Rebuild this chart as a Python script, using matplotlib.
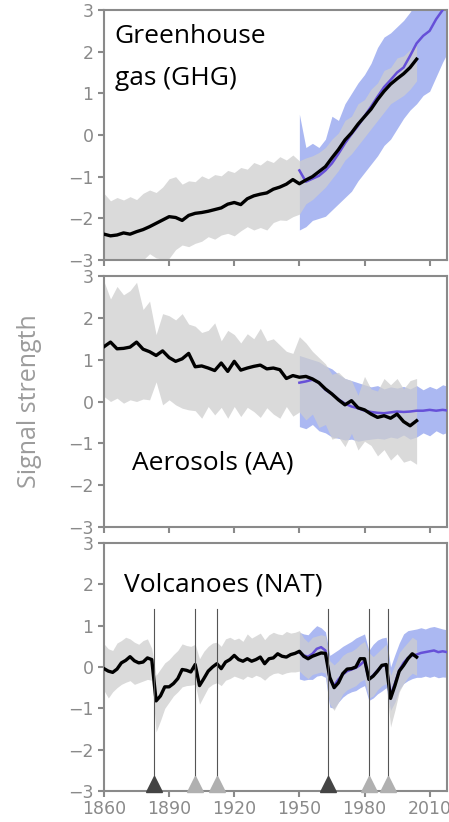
import matplotlib
matplotlib.use('Agg')
import matplotlib.pyplot as plt
import numpy as np

# colores
GRIS_BANDA = '#cecece'
AZUL_BANDA = '#abb8f2'
MORADO = '#6650d8'
GRIS_EJE = '#8a8a8a'

# ---------------- datos ----------------
# observaciones (negro + banda gris), modelo (morado + banda azul)
anios_obs = np.arange(1860, 2006, 3)
anios_mod = np.arange(1950, 2020, 3)

ghg_obs = [-2.38, -2.42, -2.40, -2.35, -2.38, -2.32, -2.27, -2.20, -2.12, -2.04,
           -1.96, -1.98, -2.05, -1.93, -1.88, -1.86, -1.83, -1.79, -1.75, -1.66,
           -1.62, -1.67, -1.53, -1.46, -1.42, -1.39, -1.30, -1.25, -1.18, -1.07,
           -1.17, -1.08, -1.00, -0.88, -0.76, -0.55, -0.35, -0.12, 0.05, 0.26,
           0.44, 0.62, 0.85, 1.05, 1.22, 1.35, 1.47, 1.62, 1.82]
ghg_obs_hi = [-1.40, -1.58, -1.50, -1.56, -1.48, -1.55, -1.40, -1.32, -1.38, -1.25,
              -1.05, -1.00, -1.18, -1.10, -1.12, -0.98, -1.05, -0.95, -0.98, -0.85,
              -0.90, -0.78, -0.82, -0.66, -0.72, -0.60, -0.66, -0.52, -0.60, -0.48,
              -0.62, -0.55, -0.50, -0.42, -0.30, -0.10, 0.05, 0.35, 0.45, 0.75,
              0.85, 1.10, 1.25, 1.55, 1.62, 1.85, 1.90, 2.05, 2.15]
ghg_obs_lo = [-3.30, -3.35, -3.20, -3.25, -3.10, -3.15, -3.00, -2.85, -2.95, -2.98,
              -2.96, -2.75, -2.64, -2.68, -2.60, -2.55, -2.44, -2.50, -2.40, -2.36,
              -2.42, -2.30, -2.20, -2.28, -2.22, -2.28, -2.10, -2.04, -2.05, -1.96,
              -1.90, -1.65, -1.55, -1.40, -1.25, -1.05, -0.85, -0.60, -0.45, -0.25,
              -0.05, 0.15, 0.35, 0.55, 0.75, 0.85, 0.95, 1.10, 1.30]
ghg_mod = [-0.85, -1.12, -1.05, -0.98, -0.85, -0.68, -0.45, -0.20, 0.02, 0.22,
           0.45, 0.68, 0.92, 1.15, 1.32, 1.50, 1.62, 1.90, 2.20, 2.38,
           2.50, 2.78, 3.00, 3.25]
ghg_mod_hi = [0.50, -0.30, -0.20, -0.30, -0.10, 0.45, 0.35, 0.75, 1.00, 1.25,
              1.45, 1.72, 2.10, 2.35, 2.45, 2.60, 2.75, 2.95, 3.20, 3.40,
              3.60, 3.80, 4.00, 4.20]
ghg_mod_lo = [-2.28, -2.20, -2.05, -2.00, -1.95, -1.80, -1.65, -1.50, -1.35, -1.10,
              -0.90, -0.70, -0.50, -0.25, -0.10, 0.15, 0.40, 0.60, 0.75, 0.95,
              1.05, 1.40, 1.75, 2.05]

aa_obs = [1.31, 1.42, 1.26, 1.27, 1.30, 1.42, 1.25, 1.19, 1.10, 1.21,
          1.05, 0.96, 1.02, 1.15, 0.83, 0.85, 0.80, 0.74, 0.92, 0.72,
          0.96, 0.75, 0.80, 0.84, 0.87, 0.78, 0.80, 0.76, 0.55, 0.62,
          0.58, 0.60, 0.54, 0.45, 0.30, 0.18, 0.04, -0.08, 0.02, -0.15,
          -0.20, -0.30, -0.38, -0.34, -0.40, -0.30, -0.48, -0.58, -0.46]
aa_obs_hi = [2.87, 2.45, 2.75, 2.55, 2.65, 2.85, 2.20, 2.40, 1.60, 2.10,
             2.05, 1.95, 2.10, 1.85, 1.80, 1.65, 1.70, 1.88, 1.45, 1.70,
             1.60, 1.40, 1.62, 1.50, 1.75, 1.45, 1.50, 1.35, 1.20, 1.15,
             1.55, 1.40, 1.20, 1.05, 0.90, 0.65, 0.70, 0.55, 0.50, 0.15,
             0.60, 0.30, 0.25, 0.55, 0.40, 0.55, 0.30, 0.50, 0.55]
aa_obs_lo = [0.12, 0.00, 0.08, -0.04, 0.04, 0.00, 0.06, 0.04, 0.47, -0.08,
             0.04, -0.08, -0.16, -0.20, -0.22, -0.40, -0.12, -0.32, -0.14, -0.40,
             -0.12, -0.36, -0.14, -0.24, -0.38, -0.15, -0.30, -0.40, -0.12, -0.35,
             -0.25, -0.44, -0.30, -0.62, -0.55, -0.90, -0.85, -1.08, -0.76, -1.16,
             -0.95, -1.05, -1.30, -1.15, -1.40, -1.25, -1.45, -1.40, -1.50]
aa_mod = [0.45, 0.48, 0.52, 0.45, 0.28, 0.18, 0.05, -0.05, -0.12, -0.16,
          -0.22, -0.25, -0.27, -0.28, -0.26, -0.24, -0.25, -0.24, -0.22, -0.22,
          -0.20, -0.22, -0.20, -0.22]
aa_mod_hi = [1.10, 1.05, 1.00, 0.95, 0.85, 0.78, 0.65, 0.55, 0.50, 0.45,
             0.40, 0.35, 0.38, 0.30, 0.35, 0.32, 0.36, 0.30, 0.38, 0.28,
             0.36, 0.30, 0.40, 0.35]
aa_mod_lo = [-0.60, -0.65, -0.55, -0.70, -0.75, -0.85, -0.88, -0.92, -0.90, -0.95,
             -0.92, -0.90, -0.88, -0.90, -0.85, -0.88, -0.80, -0.90, -0.85, -0.75,
             -0.82, -0.70, -0.78, -0.72]

# volcanes: rejilla de 2 años
anios_obs_nat = np.arange(1860, 2006, 2)
anios_mod_nat = np.arange(1950, 2020, 2)

nat_obs = [-0.04, -0.10, -0.13, -0.05, 0.10, 0.16, 0.25, 0.15, 0.10, 0.12,
           0.22, 0.18, -0.82, -0.70, -0.48, -0.48, -0.40, -0.28, -0.06, -0.08,
           -0.12, 0.06, -0.45, -0.28, -0.10, 0.00, 0.08, -0.04, 0.12, 0.18,
           0.28, 0.18, 0.14, 0.20, 0.14, 0.18, 0.24, 0.08, 0.20, 0.22,
           0.32, 0.26, 0.24, 0.30, 0.33, 0.38, 0.26, 0.20, 0.26, 0.30,
           0.34, 0.33, -0.25, -0.50, -0.38, -0.16, -0.05, -0.04, 0.00, 0.20,
           0.20, -0.30, -0.22, -0.10, 0.04, 0.06, -0.76, -0.45, -0.10, 0.04,
           0.20, 0.32, 0.24]
nat_obs_hi = [0.56, 0.44, 0.40, 0.58, 0.64, 0.72, 0.68, 0.60, 0.55, 0.64,
              0.68, 0.45, -0.20, -0.05, 0.10, 0.18, 0.30, 0.40, 0.56, 0.52,
              0.50, 0.55, 0.20, 0.38, 0.50, 0.58, 0.60, 0.50, 0.68, 0.72,
              0.66, 0.70, 0.62, 0.80, 0.70, 0.76, 0.82, 0.66, 0.78, 0.84,
              0.80, 0.78, 0.86, 0.82, 0.84, 0.88, 0.70, 0.60, 0.72, 0.75,
              0.78, 0.75, 0.15, 0.05, 0.15, 0.28, 0.35, 0.38, 0.45, 0.55,
              0.62, 0.35, 0.25, 0.35, 0.45, 0.55, -0.20, 0.05, 0.35, 0.48,
              0.60, 0.72, 0.65]
nat_obs_lo = [-0.57, -0.75, -0.60, -0.50, -0.42, -0.37, -0.33, -0.42, -0.38, -0.34,
              -0.30, -0.32, -1.57, -1.30, -1.00, -0.85, -0.70, -0.60, -0.48, -0.45,
              -0.44, -0.42, -0.90, -0.70, -0.50, -0.42, -0.38, -0.45, -0.32, -0.28,
              -0.22, -0.26, -0.30, -0.22, -0.26, -0.20, -0.24, -0.32, -0.22, -0.16,
              -0.14, -0.18, -0.14, -0.12, -0.12, -0.10, -0.20, -0.28, -0.18, -0.15,
              -0.12, -0.15, -0.90, -1.05, -0.85, -0.65, -0.55, -0.50, -0.45, -0.35,
              -0.30, -0.75, -0.70, -0.55, -0.45, -0.40, -1.45, -1.05, -0.60, -0.40,
              -0.25, -0.15, -0.20]
nat_mod = [0.35, 0.28, 0.25, 0.32, 0.44, 0.48, 0.40, -0.30, -0.45, -0.30,
           -0.18, -0.10, -0.06, -0.02, 0.05, 0.15, -0.30, -0.20, -0.08, 0.02,
           0.06, -0.68, -0.40, -0.08, 0.10, 0.22, 0.28, 0.30, 0.34, 0.36,
           0.38, 0.40, 0.36, 0.38, 0.36]
nat_mod_hi = [0.84, 0.80, 0.78, 0.90, 1.00, 0.95, 0.85, 0.28, 0.35, 0.42,
              0.50, 0.56, 0.62, 0.70, 0.75, 0.80, 0.40, 0.55, 0.65, 0.70,
              0.72, 0.00, 0.30, 0.58, 0.80, 0.88, 0.90, 0.92, 0.95, 0.92,
              0.96, 0.98, 0.95, 0.92, 0.90]
nat_mod_lo = [-0.29, -0.32, -0.30, -0.30, -0.22, -0.20, -0.25, -0.97, -1.00, -0.85,
              -0.73, -0.65, -0.60, -0.57, -0.50, -0.45, -0.81, -0.75, -0.65, -0.58,
              -0.50, -1.05, -0.85, -0.55, -0.40, -0.33, -0.28, -0.25, -0.25, -0.22,
              -0.25, -0.22, -0.26, -0.24, -0.25]

erupciones = [1883, 1902, 1912, 1963, 1982, 1991]
erupcion_grande = [True, False, False, True, False, False]

xticks = [1860, 1890, 1920, 1950, 1980, 2010]
yticks = [-3, -2, -1, 0, 1, 2, 3]

# ---------------- figura ----------------
fig = plt.figure(figsize=(4.49, 8.22), dpi=100)
izq, ancho = 104 / 449, 343 / 449
cajas = [(10, 260), (276, 527), (543, 791)]  # px arriba / abajo


def panel(caja, ao, o, olo, ohi, am, m, mlo, mhi, etiqueta_x):
    top, bot = caja
    ax = fig.add_axes([izq, 1 - bot / 822, ancho, (bot - top) / 822])
    ax.fill_between(am, mlo, mhi, color=AZUL_BANDA, lw=0, zorder=1)
    ax.fill_between(ao, olo, ohi, color=GRIS_BANDA, alpha=0.75, lw=0, zorder=2)
    ax.plot(am, m, color=MORADO, lw=1.8, zorder=3)
    ax.plot(ao, o, color='black', lw=2.4, zorder=4)
    ax.set_xlim(1860, 2018)
    ax.set_ylim(-3, 3)
    ax.set_xticks(xticks)
    ax.set_yticks(yticks)
    ax.set_yticklabels(['\u22123', '\u22122', '\u22121', '0', '1', '2', '3'])
    ax.tick_params(colors=GRIS_EJE, labelcolor=GRIS_EJE, width=1.5, length=4.5,
                   labelsize=12.5, pad=2)
    ax.tick_params(axis='y', pad=3)
    if not etiqueta_x:
        ax.tick_params(axis='x', labelbottom=False)
    for s in ax.spines.values():
        s.set_color(GRIS_EJE)
        s.set_linewidth(1.5)
    return ax


ax1 = panel(cajas[0], anios_obs, ghg_obs, ghg_obs_lo, ghg_obs_hi,
            anios_mod, ghg_mod, ghg_mod_lo, ghg_mod_hi, False)
ax1.text(1865, 2.2, 'Greenhouse', fontsize=19, family='Open Sans', va='baseline')
ax1.text(1865, 1.2, 'gas (GHG)', fontsize=19, family='Open Sans', va='baseline')

ax2 = panel(cajas[1], anios_obs, aa_obs, aa_obs_lo, aa_obs_hi,
            anios_mod, aa_mod, aa_mod_lo, aa_mod_hi, False)
ax2.text(1873, -1.62, 'Aerosols (AA)', fontsize=19, family='Open Sans', va='baseline')
ax2.set_ylabel('Signal strength', fontsize=18, family='Open Sans', color='#9c9c9c')
ax2.yaxis.set_label_coords(-0.18, 0.5)

ax3 = panel(cajas[2], anios_obs_nat, nat_obs, nat_obs_lo, nat_obs_hi,
            anios_mod_nat, nat_mod, nat_mod_lo, nat_mod_hi, True)
ax3.text(1869, 1.83, 'Volcanoes (NAT)', fontsize=19, family='Open Sans', va='baseline')

for anio, grande in zip(erupciones, erupcion_grande):
    ax3.plot([anio, anio], [-3, 1.4], color='#555555', lw=0.8, zorder=5)
    ax3.plot(anio, -2.83, marker='^', markersize=11, lw=0, zorder=6, clip_on=False,
             color='#444444' if grande else '#b0b0b0')

fig.savefig('out.png', dpi=100)
